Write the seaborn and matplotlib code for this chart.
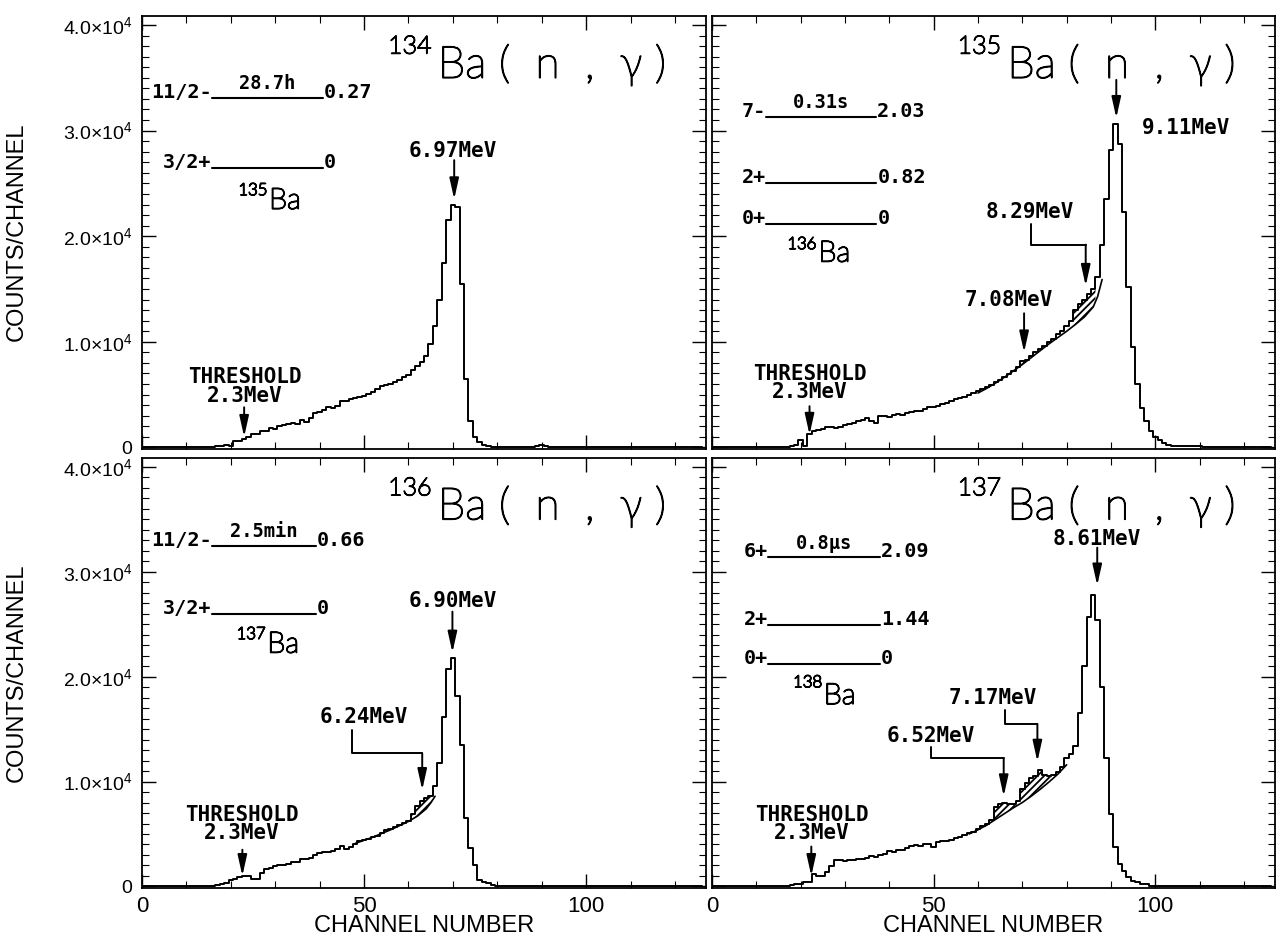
import numpy as np
import matplotlib
matplotlib.use("Agg")
import matplotlib.pyplot as plt
import matplotlib.patheffects as pe
from matplotlib.ticker import MultipleLocator, FuncFormatter
import seaborn as sns

# ---------------------------------------------------------------------------
# Pulse-height spectra (counts per channel, channels 0..126)
# ---------------------------------------------------------------------------
channels = list(range(127))

counts_134 = ([0] * 16 +
              [50, 100, 150, 200, 150] +
              [650, 650, 800, 950, 1250, 1300, 1550, 1600, 1850, 1750] +
              [2050, 2100, 2250, 2350, 2250, 2550, 2450, 2750, 3250, 3350] +
              [3550, 3800, 3700, 3950, 4350, 4400, 4600, 4700, 4800, 4900] +
              [5050, 5200, 5500, 5850, 5900, 6050, 6200, 6400, 6650, 6900] +
              [7300, 7700, 8100, 8700, 9800, 11500, 14000, 17500, 21500, 23000] +
              [22800, 15500, 6500, 2500, 1000, 500, 250, 150, 50, 50] +
              [50, 50, 50, 50, 50, 50, 50, 50, 150, 200] +
              [100] + [30] * 35)

counts_135 = ([0] * 17 +
              [50, 100, 200, 700, 150] +
              [1300, 1600, 1650, 1750, 1900, 1950, 1800, 1950, 2150, 2250] +
              [2300, 2500, 2550, 2750, 2500, 2350, 2950, 2950, 2900, 3050] +
              [3150, 3100, 3250, 3350, 3450, 3450, 3650, 3800, 3800, 3950] +
              [4150, 4250, 4350, 4550, 4650, 4750, 4950, 5150, 5300, 5500] +
              [5700, 5900, 6150, 6400, 6650, 6950, 7200, 7600, 8200, 8300] +
              [8650, 9000, 9300, 9650, 9950, 10300, 10700, 11000, 11500, 12000] +
              [13000, 13600, 14000, 14500, 15000, 16100, 19200, 23500, 28200, 30600] +
              [28700, 22300, 15200, 9500, 6000, 3750, 2500, 1600, 1000, 700] +
              [400, 250, 150, 100, 100, 100, 100, 100, 100, 50] +
              [50] * 15)

counts_136 = ([0] * 17 +
              [100, 200, 300, 600, 750, 900, 950, 950, 700, 750] +
              [1300, 1650, 1750, 1950, 2000, 2000, 2100, 2300, 2300, 2600] +
              [2650, 2700, 3000, 3200, 3250, 3250, 3400, 3550, 3900, 3600] +
              [3750, 4000, 4300, 4450, 4550, 4700, 4850, 5100, 5350, 5500] +
              [5700, 5900, 6050, 6200, 6900, 7700, 8100, 8400, 8600, 9600] +
              [11800, 16200, 20700, 21800, 18200, 13500, 6500, 3700, 2000, 600] +
              [400, 300, 150, 30, 30, 30, 30, 30, 30, 30] +
              [30] * 13 + [80, 80] + [30] * 25)

counts_137 = ([0] * 18 +
              [150, 250, 250, 400, 400, 1200, 950, 1000, 1350, 1950] +
              [2500, 2500, 2450, 2500, 2550, 2600, 2650, 2700, 2900, 2850] +
              [3000, 3050, 3350, 3300, 3450, 3500, 3650, 3850, 3950, 3900] +
              [4000, 4050, 3800, 4200, 4300, 4300, 4400, 4600, 4750, 4900] +
              [5050, 5200, 5500, 5800, 6000, 6300, 7600, 7900, 7950, 7900] +
              [7900, 8150, 9300, 9900, 10300, 10500, 11100, 10600, 10500, 10600] +
              [10900, 11400, 12200, 12600, 13400, 16500, 21000, 25700, 27800, 25400] +
              [19000, 12200, 6900, 3800, 2100, 1500, 870, 560, 400, 250] +
              [250] + [80] * 28)

# Smooth background under the partial (hatched) peaks
bg_ch_135 = [60, 62, 64, 66, 68, 70, 72, 74, 76, 78, 80, 82, 84, 86, 87, 88]
bg_135 = [5150, 5600, 6100, 6650, 7250, 7850, 8500, 9150, 9800, 10400,
          11000, 11650, 12350, 13300, 14300, 15900]
bg_ch_136 = [48, 50, 52, 54, 56, 58, 60, 62, 64, 65, 66]
bg_136 = [4100, 4400, 4700, 5050, 5400, 5800, 6200, 6700, 7400, 7950, 8600]
bg_ch_137 = [58, 60, 62, 64, 66, 68, 70, 72, 74, 76, 78, 80]
bg_137 = [5000, 5400, 5850, 6400, 6950, 7500, 8000, 8600, 9250, 9950, 10700, 11600]

# Channel spans where the partial peaks stand above the background
hatch_135 = [(69.5, 71.5), (81.5, 86.5)]
hatch_136 = [(60.5, 65.5)]
hatch_137 = [(63.5, 68.5), (69.5, 77.5)]

# Level schemes of the product nuclei: (spin, level position, energy, half-life)
levels_135 = [("11/2-", 33100, "0.27", "28.7h"), ("3/2+", 26500, "0", None)]
levels_136 = [("7-", 31300, "2.03", "0.31s"), ("2+", 25000, "0.82", None),
              ("0+", 21200, "0", None)]
levels_137 = [("11/2-", 32500, "0.66", "2.5min"), ("3/2+", 26000, "0", None)]
levels_138 = [("6+", 31400, "2.09", "0.8μs"), ("2+", 24900, "1.44", None),
              ("0+", 21200, "0", None)]

targets = ["134", "135", "136", "137"]
products = ["135", "136", "137", "138"]

# ---------------------------------------------------------------------------
sns.set_theme(style="ticks")
plt.rcParams.update({
    "axes.linewidth": 1.3,
    "axes.edgecolor": "black",
    "axes.labelcolor": "black",
    "text.color": "black",
    "xtick.color": "black",
    "ytick.color": "black",
    "hatch.linewidth": 1.3,
    "mathtext.default": "regular",
})
plt.rcParams["font.family"] = ["Liberation Sans", "DejaVu Sans"]

MONO = ["DejaVu Sans Mono", "DejaVu Sans"]
BIG = ["Lato", "DejaVu Sans"]
ANN_FS = 15
# thin outline font thickened slightly so strokes read as solid lines
THIN = [pe.withStroke(linewidth=1.1, foreground="black")]

fig = plt.figure(figsize=(12.77, 9.41), dpi=100)
W, H = 1277.0, 941.0


def add_axes(left, top, right, bottom):
    return fig.add_axes([left / W, 1 - bottom / H, (right - left) / W, (bottom - top) / H])


ax_a = add_axes(142, 16, 706, 449)
ax_b = add_axes(712, 16, 1275, 449)
ax_c = add_axes(142, 458, 706, 888)
ax_d = add_axes(712, 458, 1275, 888)


def ytick_fmt(v, pos):
    if abs(v) < 1:
        return "0"
    return "%.1f×10$^{4}$" % (v / 1e4)


def style_axes(ax, show_x, show_y):
    ax.set_xlim(0, 127)
    ax.set_ylim(-150, 40850)
    ax.xaxis.set_major_locator(MultipleLocator(50))
    ax.xaxis.set_minor_locator(MultipleLocator(10))
    ax.yaxis.set_major_locator(MultipleLocator(10000))
    ax.yaxis.set_minor_locator(MultipleLocator(1000))
    ax.yaxis.set_major_formatter(FuncFormatter(ytick_fmt))
    ax.tick_params(which="both", direction="in", top=True, right=True,
                   labelbottom=show_x, labelleft=show_y)
    ax.tick_params(which="major", length=10, width=1.0)
    ax.tick_params(which="minor", length=5, width=0.8)
    ax.tick_params(axis="x", labelsize=16, pad=6)
    ax.tick_params(axis="y", labelsize=14, pad=7)
    ax.set_xlabel("")
    ax.set_ylabel("")
    for s in ax.spines.values():
        s.set_visible(True)


def draw_spectrum(ax, counts):
    sns.lineplot(x=channels, y=counts, ax=ax, color="black", linewidth=1.4,
                 drawstyle="steps-mid", estimator=None, legend=False)


def draw_background(ax, counts, bg_ch, bg_val, spans):
    sns.lineplot(x=bg_ch, y=bg_val, ax=ax, color="black", linewidth=1.2,
                 estimator=None, legend=False)
    cnt = np.asarray(counts, dtype=float)
    for lo, hi in spans:
        xf = np.linspace(lo, hi, 300)
        top = cnt[np.clip(np.floor(xf + 0.5).astype(int), 0, len(cnt) - 1)]
        bot = np.interp(xf, bg_ch, bg_val)
        ax.fill_between(xf, bot, top, where=top > bot, facecolor="none",
                        edgecolor="black", hatch="/////", linewidth=0)


def title(ax, target):
    ax.text(55.4, 37300, target, fontsize=18, family=BIG, fontweight="light",
            ha="left", va="baseline", path_effects=THIN)
    ax.text(66.6, 35000, "Ba (  n  ,  γ )", fontsize=32, family=BIG,
            fontweight="light", ha="left", va="baseline", path_effects=THIN)


def level_scheme(ax, levels, x0, x1, product, iso_pos):
    for spin, yv, energy, half in levels:
        ax.plot([x0, x1], [yv, yv], color="black", linewidth=1.5)
        ax.text(x0, yv, spin, family=MONO, fontsize=ANN_FS - 0.5, fontweight="bold",
                ha="right", va="baseline")
        ax.text(x1 + 0.2, yv, energy, family=MONO, fontsize=ANN_FS - 0.5,
                fontweight="bold", ha="left", va="baseline")
        if half:
            ax.text((x0 + x1) / 2, yv + 800, half, family=MONO, fontsize=13.5,
                    fontweight="bold", ha="center", va="baseline")
    sx, sy, bx, by = iso_pos
    ax.text(sx, sy, product, fontsize=12, family=BIG, fontweight="light",
            ha="left", va="baseline", path_effects=THIN)
    ax.text(bx, by, "Ba", fontsize=21, family=BIG, fontweight="light",
            ha="left", va="baseline", path_effects=THIN)


def arrow(ax, x, y_from, y_to):
    ax.annotate("", xy=(x, y_to), xytext=(x, y_from),
                arrowprops=dict(arrowstyle="-|>,head_length=0.9,head_width=0.2",
                                color="black", lw=1.4, shrinkA=0, shrinkB=0,
                                mutation_scale=14))


def label(ax, x, y, s, ha="center"):
    ax.text(x, y, s, family=MONO, fontsize=ANN_FS, fontweight="bold",
            ha=ha, va="center")


def leader(ax, x0, y0, y1, x1, y_tip):
    ax.plot([x0, x0, x1], [y0, y1, y1], color="black", linewidth=1.4)
    arrow(ax, x1, y1, y_tip)


def threshold(ax, xc, y_text, x_arrow, y_from, y_to):
    label(ax, xc, y_text + 150, "THRESHOLD")
    label(ax, xc, y_text - 1600, "2.3MeV")
    arrow(ax, x_arrow, y_from, y_to)


# --- 134Ba(n,γ) --------------------------------------------------------------
draw_spectrum(ax_a, counts_134)
title(ax_a, targets[0])
level_scheme(ax_a, levels_135, 15.7, 40.8, products[0], (21.7, 23900, 28.6, 22600))
label(ax_a, 70.0, 28100, "6.97MeV")
arrow(ax_a, 70.3, 27200, 23500)
threshold(ax_a, 23.2, 6500, 23.0, 3800, 1000)

# --- 135Ba(n,γ) --------------------------------------------------------------
draw_spectrum(ax_b, counts_135)
draw_background(ax_b, counts_135, bg_ch_135, bg_135, hatch_135)
title(ax_b, targets[1])
level_scheme(ax_b, levels_136, 12.1, 37.1, products[1], (17.0, 18800, 24.0, 17600))
label(ax_b, 97.0, 30200, "9.11MeV", ha="left")
arrow(ax_b, 91.2, 34800, 31200)
label(ax_b, 71.7, 22300, "8.29MeV")
leader(ax_b, 71.9, 21200, 19200, 84.3, 15300)
label(ax_b, 66.9, 14000, "7.08MeV")
arrow(ax_b, 70.4, 12700, 9000)
threshold(ax_b, 22.1, 6800, 22.0, 3900, 1200)

# --- 136Ba(n,γ) --------------------------------------------------------------
draw_spectrum(ax_c, counts_136)
draw_background(ax_c, counts_136, bg_ch_136, bg_136, hatch_136)
title(ax_c, targets[2])
level_scheme(ax_c, levels_137, 15.7, 39.2, products[2], (21.3, 23600, 28.2, 22300))
label(ax_c, 70.0, 27200, "6.90MeV")
arrow(ax_c, 69.9, 26200, 22300)
label(ax_c, 50.0, 16200, "6.24MeV")
leader(ax_c, 47.2, 14900, 12700, 63.1, 9200)
threshold(ax_c, 22.5, 6700, 22.6, 3500, 1000)

# --- 137Ba(n,γ) --------------------------------------------------------------
draw_spectrum(ax_d, counts_137)
draw_background(ax_d, counts_137, bg_ch_137, bg_137, hatch_137)
title(ax_d, targets[3])
level_scheme(ax_d, levels_138, 12.6, 37.9, products[3], (18.3, 19000, 25.2, 17400))
label(ax_d, 86.9, 33100, "8.61MeV")
arrow(ax_d, 86.9, 32300, 28700)
label(ax_d, 49.4, 14300, "6.52MeV")
leader(ax_d, 49.5, 13300, 12200, 65.8, 8600)
label(ax_d, 63.4, 18000, "7.17MeV")
leader(ax_d, 66.0, 16800, 15500, 73.4, 11900)
threshold(ax_d, 22.5, 6700, 22.4, 3800, 1000)

style_axes(ax_a, False, True)
style_axes(ax_b, False, False)
style_axes(ax_c, True, True)
style_axes(ax_d, True, False)

# Shared axis titles
for yc in (232.0, 673.0):
    fig.text(17 / W, 1 - yc / H, "COUNTS/CHANNEL", rotation=90, ha="center",
             va="center", fontsize=17)
for xc in (424.0, 993.0):
    fig.text(xc / W, 1 - 926 / H, "CHANNEL NUMBER", ha="center", va="center",
             fontsize=17)

fig.savefig("out.png", dpi=100)
